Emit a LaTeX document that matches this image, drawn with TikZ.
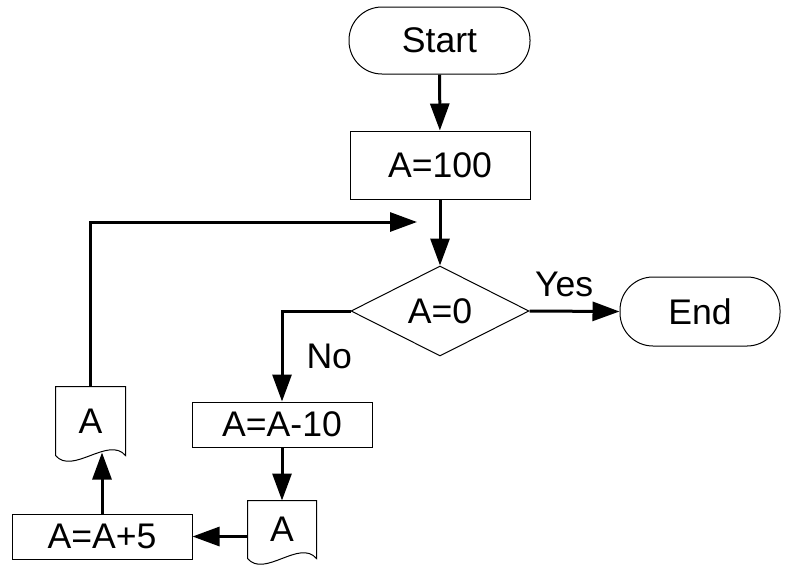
\documentclass[tikz,border=0pt]{standalone}
\usepackage{fontspec}
\setmainfont{Liberation Sans}
\usetikzlibrary{shapes.geometric,arrows.meta}
\tikzset{every path/.style={black,line width=0.5pt}, every node/.style={font=\fontsize{17.8}{20}\selectfont, inner sep=0pt},
  term/.style={draw, rounded corners=16.5pt},
  proc/.style={draw},
  decide/.style={draw, diamond, aspect=2, minimum width=89pt, minimum height=45pt},
  doc/.style={draw=none},
  lab/.style={inner sep=2pt},
  arr/.style={line width=1.5pt, -{Triangle[length=13.5pt,width=9.5pt]}}}

\begin{document}
\begin{tikzpicture}[x=0.5pt,y=-0.5pt]
   \useasboundingbox (0,0) rectangle (790,574);
   \node[term, minimum width=90.5pt, minimum height=33.5pt] (start) at (439.5,40.5) {Start};
   \node[proc, minimum width=90pt, minimum height=34pt] (set) at (440,165) {A=100};
   \node[decide] (test) at (440,311) {A=0};
   \node[term, minimum width=80pt, minimum height=34.5pt] (end) at (700,311.5) {End};
   \node[proc, minimum width=90pt, minimum height=22.5pt] (sub) at (282,424.5) {A=A-10};
   \node[doc, minimum width=34pt, minimum height=28.5pt] (outb) at (282,529.5) {A};
   \node[proc, minimum width=90pt, minimum height=22.5pt] (add) at (102,536.5) {A=A+5};
   \node[doc, minimum width=34.5pt, minimum height=34pt] (outa) at (90.5,421) {A};
   \coordinate (back) at (417,222);
   \foreach \n in {outa,outb}
    \draw (\n.south west) -- (\n.north west) -- (\n.north east) -- (\n.south east)
      .. controls +(-17,-20) and +(17,20) .. (\n.south west);
   \draw[arr] (start) -- (set);
   \draw[arr] (set) -- (test);
   \draw[arr] (test.east) -- node[lab, above=4.5pt, pos=0.385] {Yes} (end.west);
   \draw[arr] (test.west) -| node[lab, right=9.5pt, pos=0.75] {No} (sub.north);
   \draw[arr] (sub) -- (outb);
   \draw[arr] (add.east -| outb.west) -- (add.east);
   \draw[arr, shorten >=-1.5pt] (add.north) -- (add.north |- outa.south);
   \draw[arr] (outa.north) |- (back);
  \end{tikzpicture}
\end{document}
